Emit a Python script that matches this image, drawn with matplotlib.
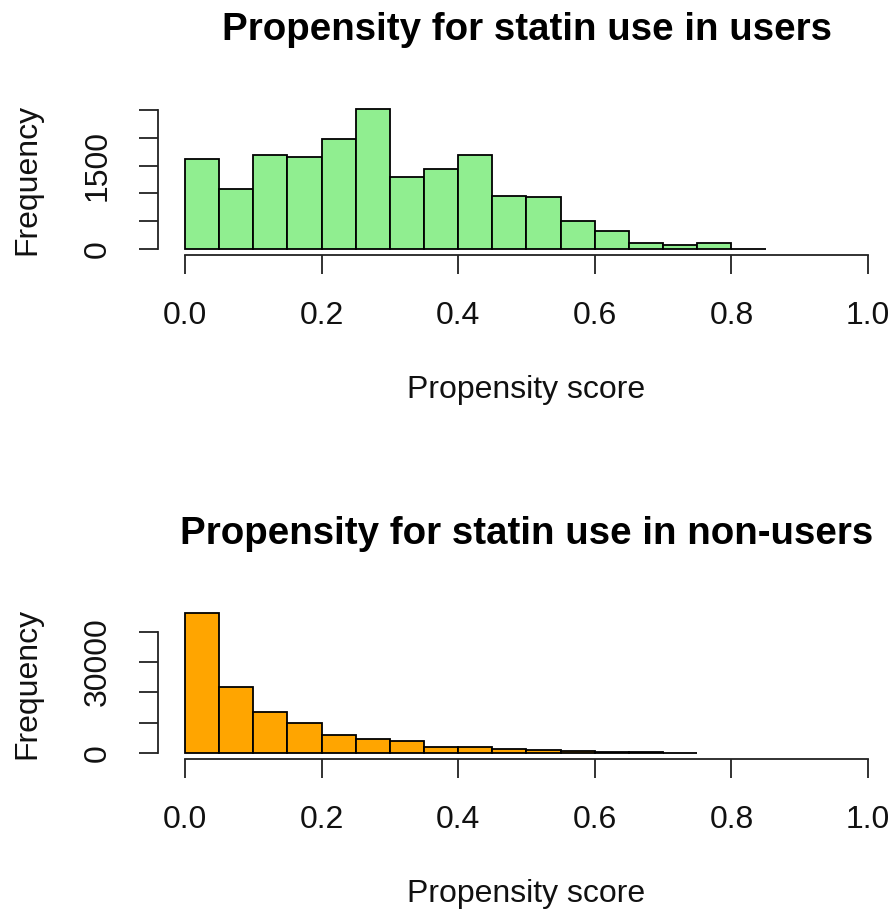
import matplotlib
matplotlib.use('Agg')
import matplotlib.pyplot as plt
import matplotlib.transforms as mtransforms

plt.rcParams['font.family'] = ['Liberation Sans', 'DejaVu Sans']

# ---------------- data ----------------
bin_edges_users = [0.00, 0.05, 0.10, 0.15, 0.20, 0.25, 0.30, 0.35, 0.40,
                   0.45, 0.50, 0.55, 0.60, 0.65, 0.70, 0.75, 0.80, 0.85]
counts_users = [1613, 1079, 1685, 1649, 1978, 2512, 1289, 1433, 1685,
                959, 935, 500, 320, 104, 72, 108, 5]

bin_edges_nonusers = [0.00, 0.05, 0.10, 0.15, 0.20, 0.25, 0.30, 0.35,
                      0.40, 0.45, 0.50, 0.55, 0.60, 0.65, 0.70, 0.75]
counts_nonusers = [46000, 21700, 13700, 9870, 5920, 4600, 3900, 2000,
                   2100, 1250, 1200, 600, 450, 300, 60]

xticks = [0.0, 0.2, 0.4, 0.6, 0.8, 1.0]
xtick_labels = ["0.0", "0.2", "0.4", "0.6", "0.8", "1.0"]
yticks_users = [0, 500, 1000, 1500, 2000, 2500]
ytick_labels_users = ["0", "", "", "1500", "", ""]
yticks_nonusers = [0, 10000, 20000, 30000, 40000]
ytick_labels_nonusers = ["0", "", "", "30000", ""]

titles = ["Propensity for statin use in users",
          "Propensity for statin use in non-users"]
xlabel = "Propensity score"
ylabel = "Frequency"
bar_colors = ["#90EE90", "#FFA500"]

# ---------------- layout (pixels) ----------------
W, H = 893, 915
fig = plt.figure(figsize=(W / 100, H / 100), dpi=100)

def fx(x):
    return x / W

def fy(y):
    return 1 - y / H

panels = [
    (bin_edges_users, counts_users, yticks_users, ytick_labels_users, titles[0], bar_colors[0], 103.7, 254.6),
    (bin_edges_nonusers, counts_nonusers, yticks_nonusers, ytick_labels_nonusers, titles[1], bar_colors[1], 607.7, 758.9),
]

LEFT, RIGHT = 157.7, 895.3
LW = 1.3
FS = 23
FS_TITLE = 27.7

for edges, counts, yt, ytl, title, col, top, bottom in panels:
    ax = fig.add_axes([fx(LEFT), fy(bottom), (RIGHT - LEFT) / W, (bottom - top) / H])
    ax.patch.set_alpha(0)
    lefts = edges[:-1]
    widths = [b - a for a, b in zip(edges[:-1], edges[1:])]
    ax.bar(lefts, counts, width=widths, align='edge', color=col,
           edgecolor='black', linewidth=LW)
    ymax = max(counts)
    ax.set_xlim(-0.04, 1.04)
    ax.set_ylim(-0.04 * ymax, 1.04 * ymax)
    for s in ['top', 'right']:
        ax.spines[s].set_visible(False)
    for s in ['bottom', 'left']:
        ax.spines[s].set_linewidth(LW)
        ax.spines[s].set_color('#222222')
    ax.spines['bottom'].set_bounds(xticks[0], xticks[-1])
    ax.spines['left'].set_bounds(yt[0], yt[-1])
    ax.set_xticks(xticks)
    ax.set_xticklabels([])
    ax.set_yticks(yt)
    ax.set_yticklabels([])
    ax.tick_params(direction='out', length=13.7, width=LW, color='#222222')

    tx = mtransforms.blended_transform_factory(ax.transData, fig.transFigure)
    for x, lab in zip(xticks, xtick_labels):
        ax.text(x, fy(bottom + 69.4), lab, transform=tx, ha='center',
                va='baseline', fontsize=FS, color='#111111')
    ty = mtransforms.blended_transform_factory(fig.transFigure, ax.transData)
    for y, lab in zip(yt, ytl):
        if lab:
            ax.text(fx(106), y, lab, transform=ty, rotation=90,
                    rotation_mode='anchor', ha='center', va='baseline',
                    fontsize=FS, color='#111111')
    # axis labels and title
    cx = fx((LEFT + RIGHT) / 2)
    fig.text(cx, fy(bottom + 143.4), xlabel, ha='center', va='baseline',
             fontsize=FS, color='#111111')
    fig.text(fx(35), fy((top + bottom) / 2), ylabel, rotation=90,
             rotation_mode='anchor', ha='center', va='baseline',
             fontsize=FS, color='#111111')
    fig.text(cx, fy(top - 63.7), title, ha='center', va='baseline',
             fontsize=FS_TITLE, fontweight='bold', color='black')

fig.savefig('out.png', dpi=100)
